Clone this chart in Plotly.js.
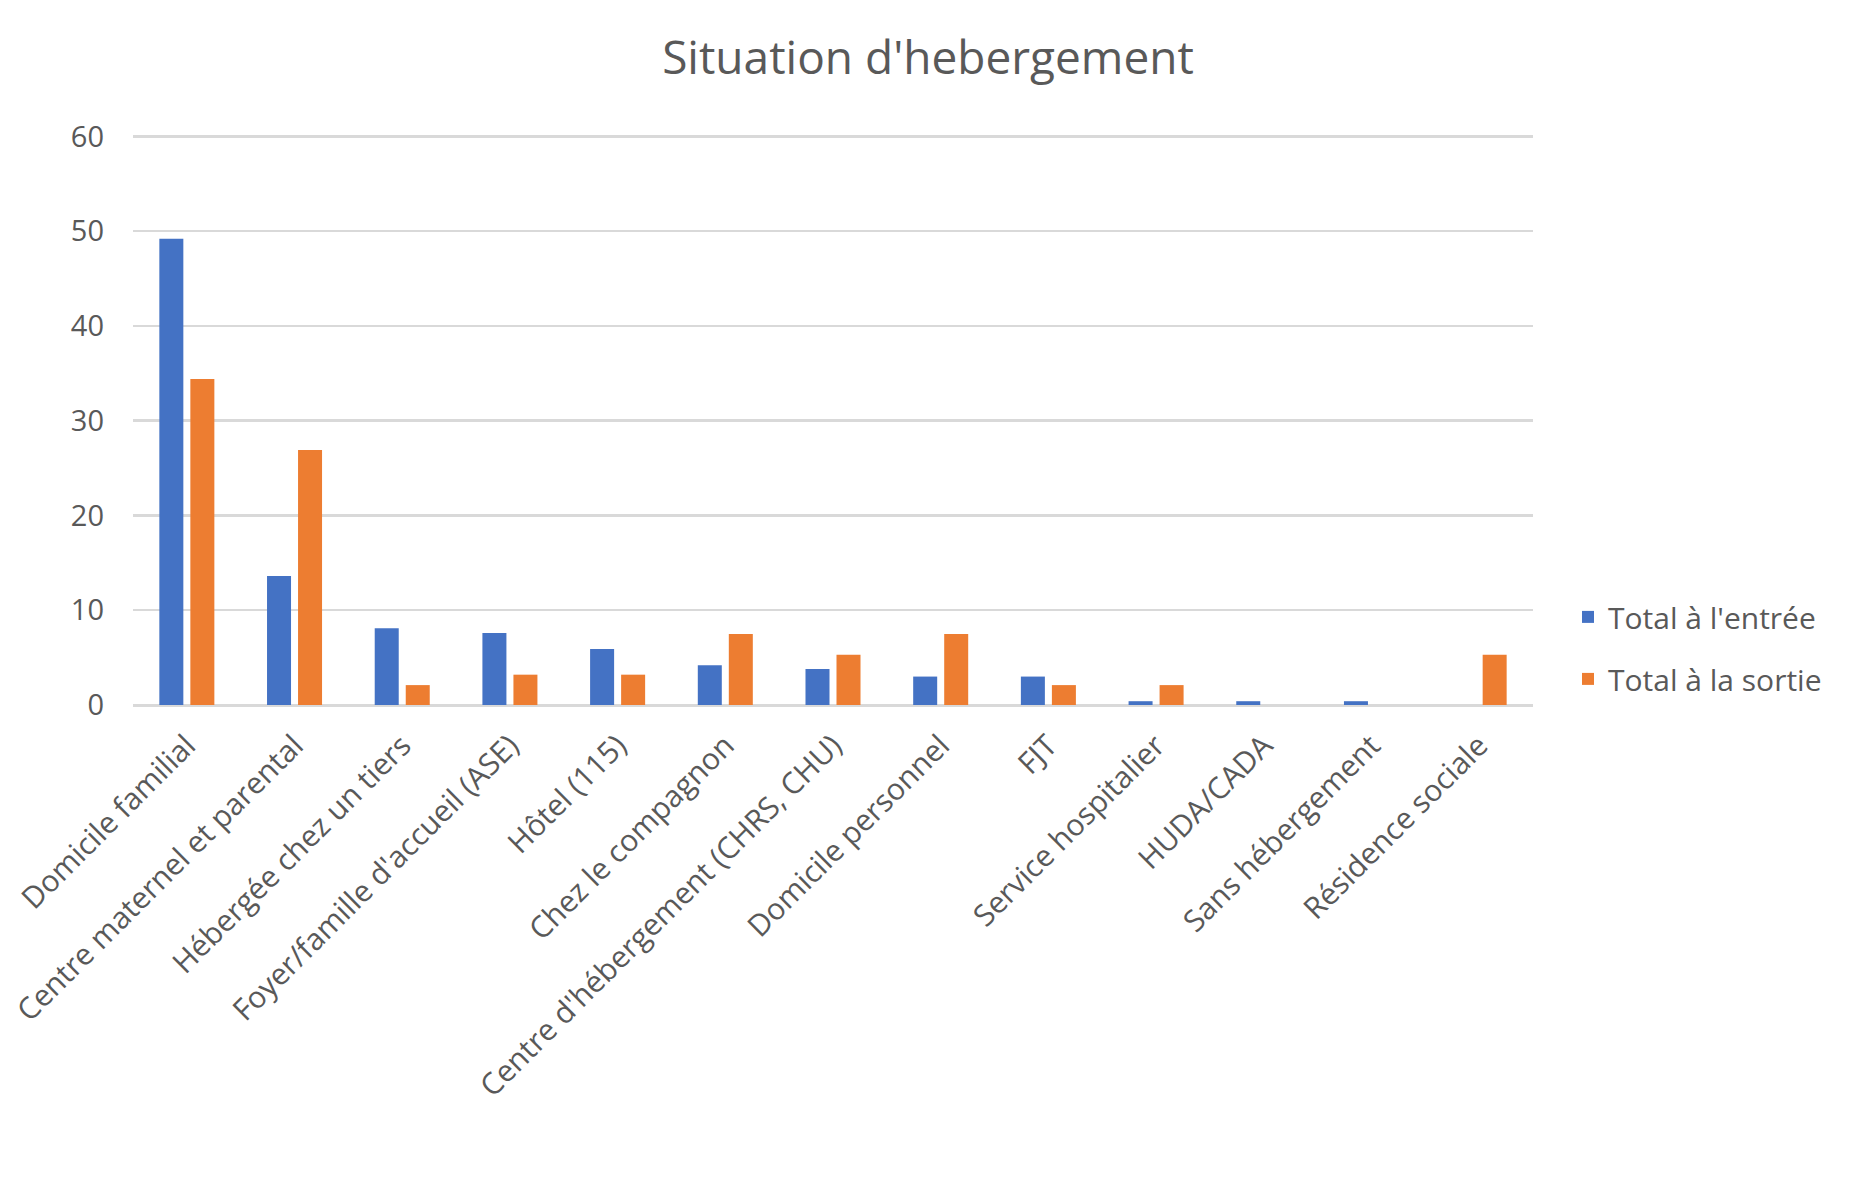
<!DOCTYPE html>
<html>
<head>
<meta charset="utf-8">
<script src="https://cdn.plot.ly/plotly-3.0.1.min.js"></script>
<style>
  html, body { margin: 0; padding: 0; background: #ffffff; }
  #chart { width: 1856px; height: 1198px; }
</style>
</head>
<body>
<div id="chart"></div>
<script>
    // categories (x axis)
    const categories = [
        'Domicile familial',
        'Centre maternel et parental',
        'Hébergée chez un tiers',
        "Foyer/famille d'accueil (ASE)",
        'Hôtel (115)',
        'Chez le compagnon',
        "Centre d'hébergement (CHRS, CHU)",
        'Domicile personnel',
        'FJT',
        'Service hospitalier',
        'HUDA/CADA',
        'Sans hébergement',
        'Résidence sociale'
    ];

    // series values
    const totalEntree = [49.2, 13.6, 8.1, 7.6, 5.9, 4.2, 3.8, 3.0, 3.0, 0.4, 0.4, 0.4, 0];
    const totalSortie = [34.4, 26.9, 2.1, 3.2, 3.2, 7.5, 5.3, 7.5, 2.1, 2.1, 0, 0, 5.3];

    const seriesNames = ["Total à l'entrée", 'Total à la sortie'];
    const yTicks = [0, 10, 20, 30, 40, 50, 60];

    const textColor = '#595959';
    const fontFamily = '"Open Sans", Lato, sans-serif';

    const data = [
        {
            x: categories,
            y: totalEntree,
            name: seriesNames[0],
            type: 'bar',
            legendgroup: 'a',
            marker: {color: '#4472C4', line: {width: 0}},
            hoverinfo: 'none'
        },
        {
            x: categories,
            y: totalSortie,
            name: seriesNames[1],
            type: 'bar',
            legendgroup: 'b',
            marker: {color: '#ED7D31', line: {width: 0}},
            hoverinfo: 'none'
        }
    ];

    const layout = {
        width: 1856,
        height: 1198,
        paper_bgcolor: '#ffffff',
        plot_bgcolor: '#ffffff',
        font: {family: fontFamily, color: textColor, size: 28},
        title: {
            text: "Situation d'hebergement",
            font: {family: fontFamily, size: 46, color: textColor},
            x: 0.5,
            xref: 'container',
            xanchor: 'center',
            y: 1 - 58 / 1198,
            yref: 'container',
            yanchor: 'middle'
        },
        margin: {t: 134, b: 493, l: 133, r: 323},
        barmode: 'group',
        bargap: 0.424,
        bargroupgap: 0.226,
        showlegend: true,
        legend: {
            x: 1.025,
            xanchor: 'left',
            y: 0.1,
            yanchor: 'middle',
            traceorder: 'grouped',
            tracegroupgap: 20,
            font: {family: fontFamily, size: 30, color: textColor},
            bgcolor: 'rgba(0,0,0,0)'
        },
        xaxis: {
            type: 'category',
            tickangle: -45,
            tickfont: {family: fontFamily, size: 30, color: textColor},
            showgrid: false,
            showline: false,
            zeroline: false,
            ticks: '',
            ticklabelstandoff: 16,
            fixedrange: true
        },
        yaxis: {
            range: [0, 60.25],
            tickvals: yTicks,
            ticktext: yTicks.map(String),
            tickfont: {family: fontFamily, size: 29, color: textColor},
            showgrid: true,
            gridcolor: '#D9D9D9',
            gridwidth: 2.5,
            zeroline: true,
            zerolinecolor: '#D9D9D9',
            zerolinewidth: 3,
            showline: false,
            ticks: '',
            ticklabelstandoff: 28,
            fixedrange: true
        }
    };

    Plotly.newPlot('chart', data, layout, {displayModeBar: false, staticPlot: true});
</script>
</body>
</html>
